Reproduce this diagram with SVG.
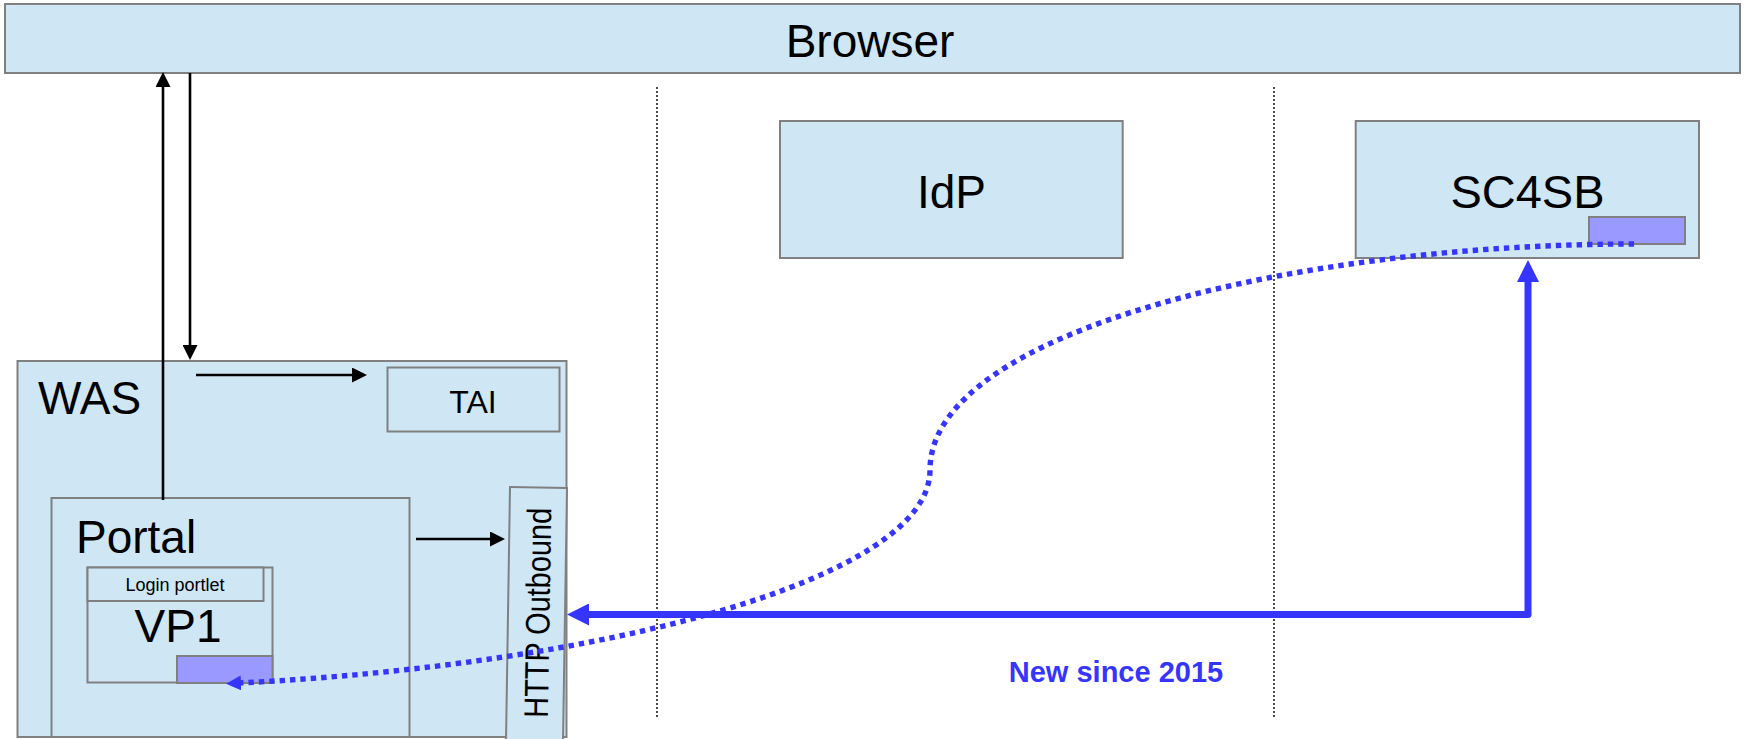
<svg xmlns="http://www.w3.org/2000/svg" width="1746" height="739" viewBox="0 0 1746 739">
<style>
.box{fill:#cfe6f4;stroke:#808080;stroke-width:2}
.sub{fill:#9999ff;stroke:#808080;stroke-width:2}
.t{font-family:"Liberation Sans",Arial,sans-serif;fill:#000}
.blk{fill:none;stroke:#000;stroke-width:2.6}
.sep{fill:none;stroke:#000;stroke-width:1.4;stroke-dasharray:2 2}
.blue{fill:none;stroke:#3535ff;stroke-width:7;stroke-linejoin:round}
.dot{fill:none;stroke:#3535ff;stroke-width:5.4;stroke-dasharray:5.4 5}
</style>
<defs>
<marker id="ah" markerUnits="userSpaceOnUse" markerWidth="15" markerHeight="15" refX="5" refY="7.5" orient="auto"><path d="M0,0 L15,7.5 L0,15 z" fill="#000"/></marker>
<marker id="bh" markerUnits="userSpaceOnUse" markerWidth="22" markerHeight="22" refX="6" refY="11" orient="auto-start-reverse"><path d="M0,0 L22,11 L0,22 z" fill="#3535ff"/></marker>
<marker id="dh" markerUnits="userSpaceOnUse" markerWidth="15" markerHeight="15" refX="2" refY="7.5" orient="auto"><path d="M0,0 L15,7.5 L0,15 z" fill="#3535ff"/></marker>
</defs>
<rect width="1746" height="739" fill="#fff"/>
<g id="separators">
<line class="sep" x1="657" y1="87" x2="657" y2="717"/>
<line class="sep" x1="1274" y1="87" x2="1274" y2="717"/>
</g>
<g id="browser">
<rect class="box" x="5" y="4" width="1735" height="69"/>
<text class="t" x="870" y="57" font-size="46" text-anchor="middle">Browser</text>
</g>
<g id="idp">
<rect class="box" x="780" y="121" width="342.7" height="137"/>
<text class="t" x="951.5" y="208" font-size="46" text-anchor="middle">IdP</text>
</g>
<g id="sc4sb">
<rect class="box" x="1355.7" y="121" width="343.3" height="137"/>
<text class="t" x="1527.5" y="208" font-size="47" text-anchor="middle">SC4SB</text>
<rect class="sub" x="1589" y="217" width="96" height="27"/>
</g>
<g id="was">
<rect class="box" x="17.5" y="361" width="549" height="376"/>
<text class="t" x="38" y="414" font-size="46">WAS</text>
</g>
<g id="tai">
<rect class="box" x="387.5" y="367.5" width="172" height="64"/>
<text class="t" x="473" y="412.7" font-size="32" text-anchor="middle">TAI</text>
</g>
<g id="portal">
<rect class="box" x="51.5" y="498" width="358" height="239"/>
<text class="t" x="76" y="553" font-size="46">Portal</text>
</g>
<g id="vp1">
<rect class="box" x="87.5" y="567.5" width="185" height="115"/>
<rect class="box" x="87.5" y="567.5" width="176" height="33.5"/>
<text class="t" x="175" y="590.5" font-size="18" text-anchor="middle">Login portlet</text>
<text class="t" x="178" y="642" font-size="46" text-anchor="middle">VP1</text>
<rect class="sub" x="177" y="656" width="95.5" height="27"/>
</g>
<g id="http-outbound">
<rect class="box" x="510" y="487" width="57" height="275" transform="rotate(0.9 510 487)"/>
<text class="t" font-size="34" text-anchor="middle" textLength="210" lengthAdjust="spacingAndGlyphs" transform="translate(549.5 613) rotate(-89.1)">HTTP Outbound</text>
</g>
<g id="connectors">
<line class="blk" x1="163" y1="500" x2="163" y2="82" marker-end="url(#ah)"/>
<line class="blk" x1="190" y1="73" x2="190" y2="350" marker-end="url(#ah)"/>
<line class="blk" x1="196" y1="375" x2="357" y2="375" marker-end="url(#ah)"/>
<line class="blk" x1="416" y1="539" x2="495" y2="539" marker-end="url(#ah)"/>
<path class="blue" d="M1528 276 V614.5 H583" marker-start="url(#bh)" marker-end="url(#bh)"/>
<path class="dot" d="M1634 244 C1300 244 930 330 930 470 C930 580 600 665 239 683" marker-end="url(#dh)"/>
</g>
<text class="t" x="1116" y="681.5" font-size="29" font-weight="bold" style="fill:#3535ff" text-anchor="middle">New since 2015</text>
</svg>
